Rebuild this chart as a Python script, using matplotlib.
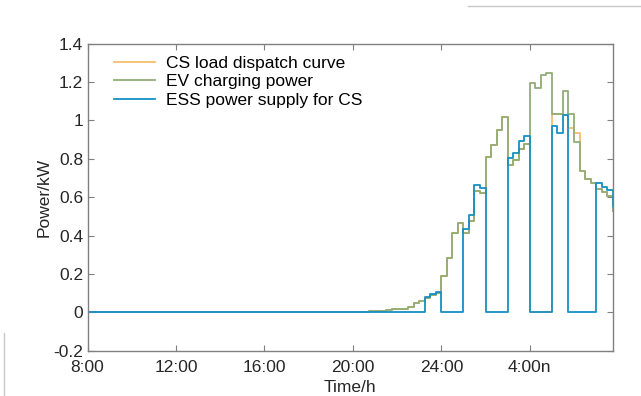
import numpy as np
import matplotlib.pyplot as plt
import matplotlib as mpl

mpl.rcParams['font.family'] = ['Liberation Sans', 'DejaVu Sans']
mpl.rcParams['axes.unicode_minus'] = False

# 96 samples, 15 min each, starting at 8:00
slots = np.arange(1, 97)

ev_power = [0.0] * 49 + [
    0.002, 0.004, 0.005, 0.006, 0.009, 0.010, 0.016, 0.017, 0.018, 0.030,
    0.046, 0.060, 0.076, 0.088, 0.100, 0.189, 0.281, 0.415, 0.466, 0.415,
    0.478, 0.630, 0.620, 0.809, 0.873, 0.951, 1.017, 0.766, 0.792, 0.849,
    0.875, 1.196, 1.168, 1.234, 1.247, 1.031, 1.031, 1.153, 1.031, 0.889,
    0.738, 0.693, 0.675, 0.642, 0.625, 0.606, 0.527]

cs_load = [0.0] * 49 + [
    0.002, 0.004, 0.005, 0.006, 0.009, 0.010, 0.016, 0.017, 0.018, 0.030,
    0.046, 0.060, 0.076, 0.088, 0.100, 0.189, 0.281, 0.415, 0.466, 0.415,
    0.478, 0.630, 0.620, 0.809, 0.873, 0.951, 1.017, 0.766, 0.792, 0.849,
    0.875, 0.0, 0.0, 0.0, 0.0, 1.031, 1.031, 1.030, 0.962, 0.932,
    0.738, 0.693, 0.675, 0.642, 0.625, 0.606, 0.527]

ess_supply = [0.0] * 61 + [
    0.082, 0.094, 0.106, 0.0, 0.0, 0.0, 0.0, 0.433, 0.507, 0.663,
    0.650, 0.0, 0.0, 0.0, 0.0, 0.804, 0.832, 0.891, 0.918, 0.0,
    0.0, 0.0, 0.0, 0.970, 0.933, 1.030, 0.0, 0.0, 0.0, 0.0,
    0.0, 0.672, 0.655, 0.637, 0.554]

tick_pos = [1, 17, 33, 49, 65, 81]
tick_labels = ['8:00', '12:00', '16:00', '20:00', '24:00', '4:00n']

fig = plt.figure(figsize=(6.41, 3.96), dpi=100)
ax = fig.add_axes([87.5 / 641, 45.3 / 396, 525.2 / 641, 307.2 / 396])

ax.step(slots, cs_load, where='post', color='#F5BE6E', lw=1.3, label='CS load dispatch curve')
ax.step(slots, ev_power, where='post', color='#91AC76', lw=1.3, label='EV charging power')
ax.step(slots, ess_supply, where='post', color='#1690C4', lw=1.3, label='ESS power supply for CS')

ax.set_xlim(1, 96)
ax.set_ylim(-0.2, 1.4)
ax.set_xticks(tick_pos)
ax.set_xticklabels(tick_labels)
ax.set_yticks(np.arange(-0.2, 1.41, 0.2))
ax.yaxis.set_major_formatter(mpl.ticker.FormatStrFormatter('%g'))

for s in ax.spines.values():
    s.set_color('#808080')
    s.set_linewidth(1.0)
ax.tick_params(direction='in', top=True, right=True, length=4, width=0.8,
               color='#808080', labelcolor='#262626', labelsize=12.5)
ax.tick_params(axis='x', pad=7)
ax.tick_params(axis='y', pad=3)

ax.set_xlabel('Time/h', fontsize=12.5, color='#262626', labelpad=3)
ax.set_ylabel('Power/kW', fontsize=12.5, color='#262626', labelpad=1)

leg = ax.legend(loc='upper left', frameon=False, fontsize=12.5, handlelength=2.4,
                handletextpad=0.6, labelspacing=0.2, borderaxespad=0.2,
                bbox_to_anchor=(0.03, 0.995))

# light frame lines from the screenshot
fig.add_artist(plt.Line2D([0.73, 1.0], [0.985, 0.985], color='#c8c8c8', lw=1.0))
fig.add_artist(plt.Line2D([0.007, 0.007], [0.0, 0.16], color='#c8c8c8', lw=1.0))

fig.savefig('out.png', dpi=100)
